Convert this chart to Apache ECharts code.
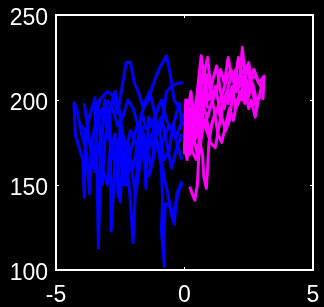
<!DOCTYPE html>
<html>
<head>
<meta charset="utf-8">
<script src="https://cdn.jsdelivr.net/npm/echarts@6/dist/echarts.min.js"></script>
<style>
  html, body { margin: 0; padding: 0; background: #000; }
  #chart { width: 324px; height: 307px; }
</style>
</head>
<body>
<div id="chart"></div>
<script>
const xTicks = [-5, 0, 5]
const yTicks = [100, 150, 200, 250]

// blue trajectories (x, y)
const blue1 = [[-4.3,199],[-4.2,195],[-4.0,180],[-3.8,168],[-3.7,145],[-3.6,175],[-3.3,200],[-3.0,205],[-2.8,203],[-2.6,192],[-2.4,210],[-2.27,222],[-2.1,222],[-1.95,210],[-1.8,205],[-1.6,195],[-1.4,200],[-1.2,210],[-1.0,218],[-0.7,226],[-0.55,215],[-0.4,200],[-0.2,195],[-0.1,190]]
const blue2 = [[-4.3,198],[-4.25,180],[-4.1,172],[-3.95,165],[-3.9,143],[-3.85,180],[-3.7,190],[-3.5,200],[-3.4,160],[-3.35,113],[-3.25,170],[-3.1,200],[-2.9,190],[-2.85,123],[-2.7,165],[-2.5,178],[-2.3,172],[-2.1,140],[-2.0,116],[-1.9,150],[-1.7,185],[-1.5,175],[-1.3,160],[-1.1,180],[-0.9,190],[-0.7,175],[-0.5,160],[-0.3,172],[-0.1,180]]
const blue3 = [[-1.3,180],[-1.2,168],[-1.05,175],[-0.9,160],[-0.85,140],[-0.9,124],[-0.78,102],[-0.8,118],[-0.75,139],[-0.6,139],[-0.4,127],[-0.3,145],[-0.15,150],[-0.05,150]]
const blue4 = [[-4.0,185],[-3.8,180],[-3.6,170],[-3.4,175],[-3.2,160],[-3.0,150],[-2.9,170],[-2.7,180],[-2.58,143],[-2.5,188],[-2.35,150],[-2.3,170],[-2.1,182],[-1.9,175],[-1.8,165],[-1.6,178],[-1.5,148],[-1.4,190],[-1.2,185],[-1.0,170],[-0.8,178],[-0.6,185],[-0.4,180],[-0.2,170],[-0.1,165]]
const blue5 = [[-3.5,202],[-3.3,185],[-3.2,150],[-3.1,175],[-2.9,195],[-2.7,205],[-2.55,195],[-2.4,180],[-2.2,170],[-2.0,160],[-1.85,172],[-1.7,190],[-1.5,200],[-1.35,205],[-1.2,195],[-1.0,180],[-0.85,188],[-0.7,205],[-0.5,208],[-0.25,210],[-0.05,210]]
const blue6 = [[-3.9,198],[-3.75,182],[-3.6,165],[-3.5,158],[-3.4,185],[-3.2,195],[-3.0,182],[-2.8,170],[-2.6,155],[-2.5,140],[-2.4,165],[-2.2,175],[-2.05,158],[-1.9,145],[-1.75,160],[-1.6,172],[-1.45,168],[-1.3,178],[-1.1,188],[-0.95,180],[-0.8,165],[-0.6,170],[-0.45,185],[-0.3,178],[-0.15,186]]
const blue7 = [[-3.1,195],[-2.95,180],[-2.8,172],[-2.7,160],[-2.55,168],[-2.4,158],[-2.25,150],[-2.15,168],[-2.0,175],[-1.85,185],[-1.7,180],[-1.55,165],[-1.4,155],[-1.25,163],[-1.1,175],[-0.95,170],[-0.8,155],[-0.65,145],[-0.5,132],[-0.35,138],[-0.2,148],[-0.1,152]]
const blue8 = [[-3.0,200],[-2.8,195],[-2.6,185],[-2.4,190],[-2.2,200],[-2.0,195],[-1.8,185],[-1.6,190],[-1.5,183],[-1.3,185],[-1.1,192],[-0.9,200],[-0.7,188],[-0.5,182],[-0.35,190],[-0.2,198],[-0.1,185]]

// magenta trajectories (x, y)
const pink1 = [[0.05,198],[0.1,185],[0.15,172],[0.2,168],[0.3,175],[0.4,190],[0.5,205],[0.65,226],[0.8,210],[0.95,200],[1.1,212],[1.25,220],[1.4,205],[1.55,195],[1.7,208],[1.85,215],[2.0,205],[2.15,212],[2.25,231],[2.35,215],[2.5,205],[2.65,210],[2.8,200],[3.0,202]]
const pink2 = [[0.0,168],[0.08,180],[0.15,195],[0.25,205],[0.35,190],[0.45,178],[0.55,185],[0.7,200],[0.85,215],[1.0,205],[1.15,195],[1.3,180],[1.45,175],[1.6,185],[1.75,195],[1.9,188],[2.05,200],[2.2,205],[2.35,198],[2.5,210],[2.7,218],[2.85,212],[3.05,205]]
const pink3 = [[0.2,149],[0.3,145],[0.4,141],[0.5,150],[0.55,165],[0.6,175],[0.7,168],[0.75,155],[0.85,148],[0.9,160],[0.95,175],[1.05,185],[1.2,192],[1.4,200],[1.6,210],[1.8,218],[2.0,210],[2.2,215],[2.4,220],[2.55,212],[2.75,214],[2.9,210],[3.1,214],[3.05,200]]
const pink4 = [[0.05,190],[0.15,182],[0.3,170],[0.45,165],[0.6,172],[0.7,182],[0.85,190],[1.0,175],[1.2,172],[1.35,185],[1.5,198],[1.65,205],[1.8,200],[1.95,210],[2.1,225],[2.2,215],[2.35,205],[2.5,195],[2.6,200],[2.75,190],[2.85,198]]
const pink5 = [[0.0,175],[0.1,165],[0.2,178],[0.3,188],[0.45,195],[0.6,205],[0.75,215],[0.9,225],[1.0,210],[1.1,200],[1.25,205],[1.4,218],[1.55,210],[1.7,225],[1.85,212],[2.0,218],[2.15,208],[2.3,212],[2.5,222],[2.65,205],[2.8,195],[2.95,205],[3.05,210]]
const pink6 = [[0.05,180],[0.15,188],[0.25,182],[0.35,175],[0.5,180],[0.65,192],[0.8,185],[0.95,178],[1.1,188],[1.25,195],[1.4,190],[1.55,202],[1.7,198],[1.85,208],[2.0,195],[2.15,200],[2.3,210],[2.45,200],[2.6,208]]
const pink7 = [[0.02,195],[0.1,200],[0.2,192],[0.3,180],[0.4,175],[0.5,168],[0.6,180],[0.75,195],[0.9,190],[1.05,198],[1.2,208],[1.3,200],[1.45,190],[1.6,182],[1.75,188],[1.85,200],[2.0,212],[2.1,205],[2.25,200],[2.4,212]]
const pink8 = [[0.0,170],[0.05,200],[0.1,175],[0.18,195],[0.22,170],[0.3,198],[0.38,180],[0.45,200],[0.5,185],[0.62,215],[0.7,190],[0.8,205],[0.9,195]]

const blueLines = [blue1, blue2, blue3, blue4, blue5, blue6, blue7, blue8]
const pinkLines = [pink1, pink2, pink3, pink4, pink5, pink6, pink7, pink8]

const mkSeries = (data, color) => ({
    type: 'line',
    data: data,
    showSymbol: false,
    silent: true,
    lineStyle: { color: color, width: 3, join: 'round' },
})

const labelFont = { color: '#fff', fontSize: 23, fontFamily: 'Liberation Sans, Arial, sans-serif' }
const tick = { show: true, inside: true, length: 3, lineStyle: { color: '#fff', width: 1 } }

const chart = echarts.init(document.getElementById('chart'))
chart.setOption({
    backgroundColor: '#000',
    animation: false,
    grid: { left: 56, right: 11, top: 15, bottom: 32, show: true, borderColor: '#fff', borderWidth: 2, backgroundColor: '#000' },
    xAxis: [
        {
            type: 'value', min: xTicks[0], max: xTicks[2], interval: 5,
            axisLine: { show: false, onZero: false },
            axisTick: tick,
            splitLine: { show: false },
            axisLabel: { ...labelFont, margin: 14 },
        },
        {
            type: 'value', position: 'top', min: xTicks[0], max: xTicks[2], interval: 5,
            axisLine: { show: false, onZero: false },
            axisTick: tick,
            splitLine: { show: false },
            axisLabel: { show: false },
        },
    ],
    yAxis: [
        {
            type: 'value', min: yTicks[0], max: yTicks[3], interval: 50,
            axisLine: { show: false, onZero: false },
            axisTick: tick,
            splitLine: { show: false },
            axisLabel: { ...labelFont, margin: 8, verticalAlign: 'top', lineHeight: 8 },
        },
        {
            type: 'value', position: 'right', min: yTicks[0], max: yTicks[3], interval: 50,
            axisLine: { show: false, onZero: false },
            axisTick: tick,
            splitLine: { show: false },
            axisLabel: { show: false },
        },
    ],
    series: [
        ...blueLines.map((d) => mkSeries(d, '#0000ff')),
        ...pinkLines.map((d) => mkSeries(d, '#ff00ff')),
    ],
})
</script>
</body>
</html>
